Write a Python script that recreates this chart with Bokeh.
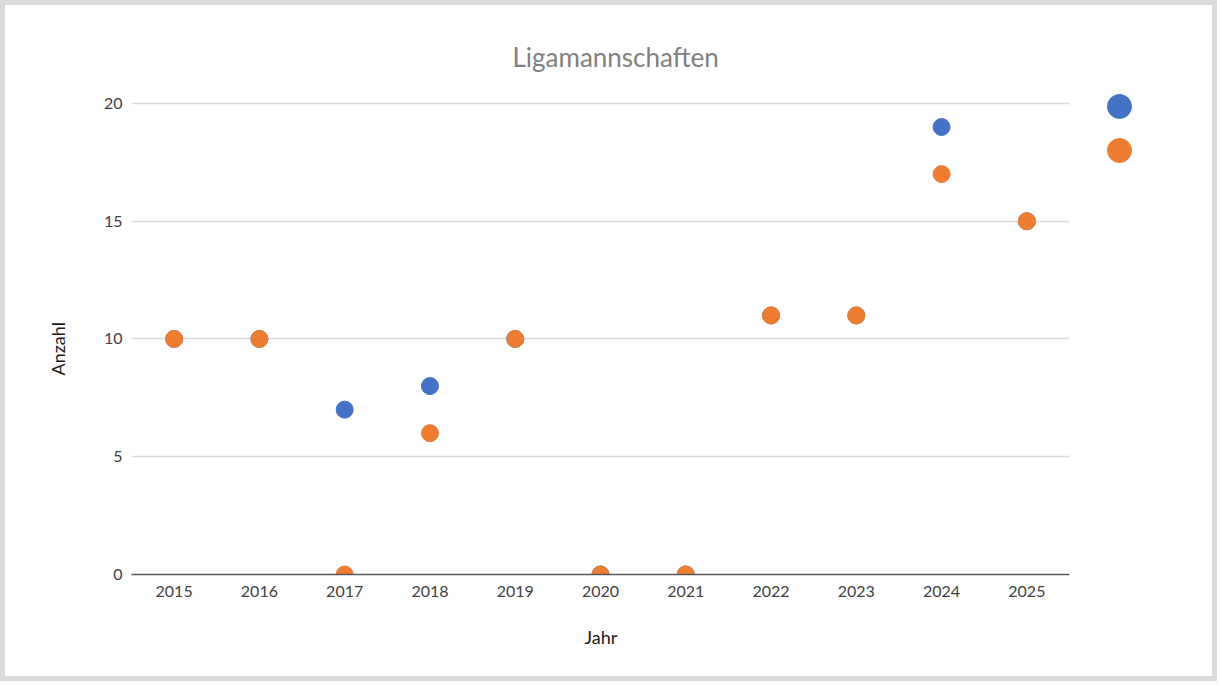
from bokeh.plotting import figure
from bokeh.models import Range1d, Legend, LegendItem, ColumnDataSource, FixedTicker, Title
from bokeh.core.properties import value
from bokeh.embed import file_html
from bokeh.resources import INLINE

years = [2015, 2016, 2017, 2018, 2019, 2020, 2021, 2022, 2023, 2024, 2025]
blue_vals = [10, 10, 7, 8, 10, 0, 0, 11, 11, 19, 15]
orange_vals = [10, 10, 0, 6, 10, 0, 0, 11, 11, 17, 15]
y_ticks = [0, 5, 10, 15, 20]
title_text = "Ligamannschaften"
x_label = "Jahr"
y_label = "Anzahl"

FONT = "Lato"
X0, X1 = 2014.5, 2025.5          # extent of the category axis
XEND = X0 + 1029 / (938 / 11)    # frame extends right to hold the legend

p = figure(
    width=1217, height=681,
    x_range=Range1d(X0, XEND),
    y_range=Range1d(0, 20.55),
    output_backend="svg", toolbar_location=None,
    min_border_left=126, min_border_right=62, min_border_top=85, min_border_bottom=112,
)
p.styles = {"border": "5px solid #d9d9d9"}
p.background_fill_color = "white"
p.border_fill_color = "white"
p.outline_line_color = None

t = Title(text=title_text, align="left", offset=381, standoff=36,
          text_font=FONT, text_font_size="26px", text_font_style="normal",
          text_color="#7f7f7f")
p.add_layout(t, "above")

src = ColumnDataSource(dict(x=years, blue=blue_vals, orange=orange_vals))
rb = p.scatter("x", "blue", source=src, size=17, fill_color="#4472C4", line_color="#4472C4")
ro = p.scatter("x", "orange", source=src, size=17, fill_color="#ED7D31", line_color="#ED7D31")

p.xaxis.ticker = FixedTicker(ticks=years)
p.xaxis.bounds = (X0, X1)
p.xaxis.axis_line_color = "#595959"
p.xaxis.axis_line_width = 1.5
p.xaxis.major_tick_line_color = None
p.xaxis.major_tick_out = 0
p.xaxis.major_tick_in = 0
p.xaxis.minor_tick_line_color = None
p.xaxis.major_label_standoff = 11
p.xaxis.major_label_text_font = FONT
p.xaxis.major_label_text_font_size = "16px"
p.xaxis.major_label_text_color = "#404040"

xlab = Title(text=x_label, align="left", offset=453, standoff=49,
             text_font=FONT, text_font_size="18px", text_font_style="normal",
             text_color="#1a1a1a")
p.add_layout(xlab, "below")

p.yaxis.ticker = FixedTicker(ticks=y_ticks)
p.yaxis.axis_line_color = None
p.yaxis.major_tick_line_color = None
p.yaxis.major_tick_out = 0
p.yaxis.major_tick_in = 0
p.yaxis.minor_tick_line_color = None
p.yaxis.major_label_standoff = 9
p.yaxis.major_label_text_font = FONT
p.yaxis.major_label_text_font_size = "16px"
p.yaxis.major_label_text_color = "#404040"

ylab = Title(text=y_label, align="left", offset=199, standoff=64,
             text_font=FONT, text_font_size="18px", text_font_style="normal",
             text_color="#1a1a1a")
p.add_layout(ylab, "left")

p.xgrid.grid_line_color = None
p.ygrid.grid_line_color = "#d9d9d9"
p.ygrid.grid_line_width = 1.5
p.ygrid.cross_bounds = (X0, X1)

G = 60
for r, loc in ((rb, (958, 438)), (ro, (958, 394))):
    lg = Legend(items=[LegendItem(label=value(" "), renderers=[r])], location=loc,
                glyph_width=G, glyph_height=G, padding=0, margin=0,
                label_standoff=0, label_text_font_size="4px",
                border_line_color=None, background_fill_alpha=0)
    p.add_layout(lg)

open("out.html", "w").write(file_html(p, INLINE))
